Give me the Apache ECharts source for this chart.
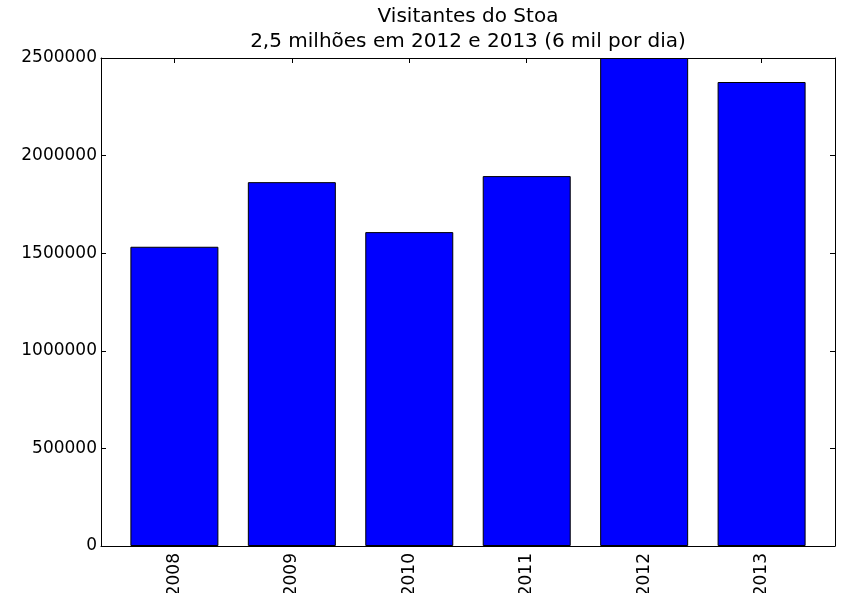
<!DOCTYPE html>
<html>
<head>
<meta charset="utf-8">
<script src="https://cdn.jsdelivr.net/npm/echarts@6/dist/echarts.min.js"></script>
<style>
  html, body { margin: 0; padding: 0; background: #fff; }
  #chart { width: 842px; height: 593px; }
</style>
</head>
<body>
<div id="chart"></div>
<script>
// dados
const years = ['2008', '2009', '2010', '2011', '2012', '2013']
const visitors = [1533000, 1864000, 1608000, 1895000, 2500000, 2377000]
const yTicks = [0, 500000, 1000000, 1500000, 2000000, 2500000]

const positions = years.map((y, i) => i)
const font = 'DejaVu Sans'

const chart = echarts.init(document.getElementById('chart'))

const frameLine = { show: true, onZero: false, lineStyle: { color: '#000', width: 1 } }
const innerTick = { show: true, inside: true, length: 5, lineStyle: { color: '#000' } }

chart.setOption({
  animation: false,
  title: [
    {
      text: 'Visitantes do Stoa',
      left: 468, top: 7, padding: 0, textAlign: 'center',
      textStyle: { fontFamily: font, fontSize: 20, fontWeight: 'normal', color: '#000', lineHeight: 20 }
    },
    {
      text: '2,5 milhões em 2012 e 2013 (6 mil por dia)',
      left: 468, top: 32, padding: 0, textAlign: 'center',
      textStyle: { fontFamily: font, fontSize: 20, fontWeight: 'normal', color: '#000', lineHeight: 20 }
    }
  ],
  grid: { left: 101, right: 7, top: 58, bottom: 47, containLabel: false, outerBoundsMode: 'none' },
  xAxis: [
    {
      type: 'value', position: 'bottom',
      min: -0.625, max: 5.625,
      axisLine: frameLine,
      axisTick: Object.assign({ customValues: positions }, innerTick),
      axisLabel: {
        customValues: positions,
        formatter: v => years[Math.round(v)],
        rotate: 90, margin: 7,
        fontFamily: font, fontSize: 17, color: '#000'
      },
      splitLine: { show: false }
    },
    {
      type: 'value', position: 'top',
      min: -0.625, max: 5.625,
      axisLine: frameLine,
      axisTick: Object.assign({ customValues: positions }, innerTick),
      axisLabel: { show: false },
      splitLine: { show: false }
    }
  ],
  yAxis: [
    {
      type: 'value', position: 'left',
      min: yTicks[0], max: yTicks[yTicks.length - 1], interval: 500000,
      axisLine: frameLine,
      axisTick: innerTick,
      axisLabel: { margin: 4, formatter: v => String(v), fontFamily: font, fontSize: 17, color: '#000' },
      splitLine: { show: false }
    },
    {
      type: 'value', position: 'right',
      min: yTicks[0], max: yTicks[yTicks.length - 1], interval: 500000,
      axisLine: frameLine,
      axisTick: innerTick,
      axisLabel: { show: false },
      splitLine: { show: false }
    }
  ],
  series: [
    {
      type: 'bar',
      xAxisIndex: 0, yAxisIndex: 0,
      barWidth: 88,
      data: visitors.map((v, i) => [positions[i], v]),
      itemStyle: { color: '#0000ff', borderColor: '#000', borderWidth: 1 }
    }
  ]
})
</script>
</body>
</html>
